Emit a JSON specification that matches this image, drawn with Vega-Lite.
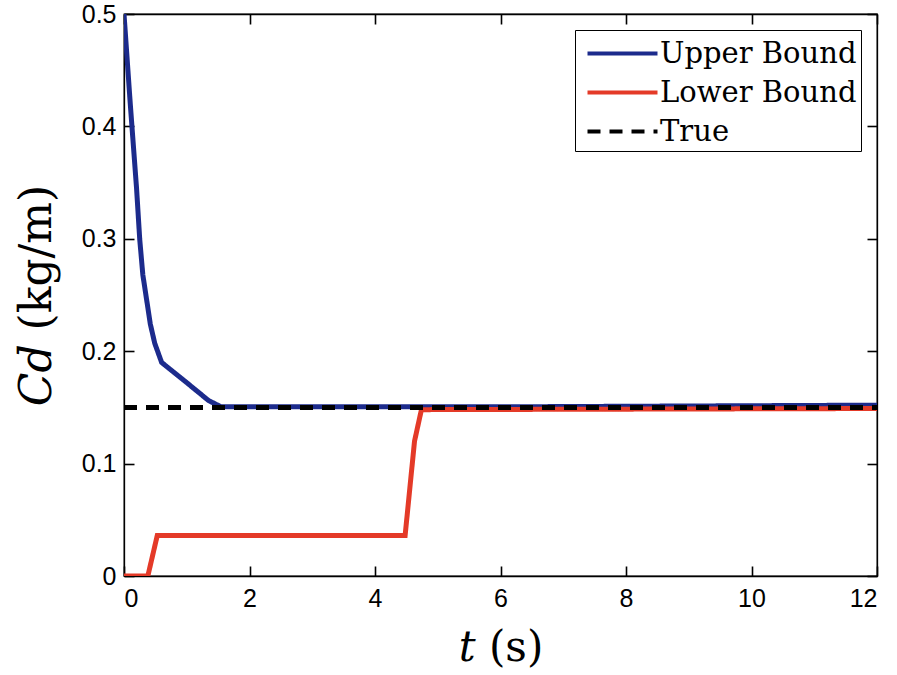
{
  "$schema": "https://vega.github.io/schema/vega-lite/v6.json",
  "width": 753,
  "height": 562,
  "autosize": {"type": "none"},
  "padding": {"left": 124, "top": 14, "right": 20, "bottom": 99},
  "background": "white",
  "config": {
    "view": {"stroke": "black", "strokeWidth": 1.3},
    "axis": {"domainColor": "black", "tickColor": "black", "labelColor": "black", "titleColor": "black", "grid": false, "zindex": 1, "labelFont": "Liberation Sans", "labelFontSize": 25, "ticks": true, "tickSize": -10, "domainWidth": 1.3, "tickWidth": 1.6}
  },
  "data": {"values": [
    {"s": "Upper Bound", "t": 0, "c": 0.5},
    {"s": "Upper Bound", "t": 0.1, "c": 0.42},
    {"s": "Upper Bound", "t": 0.2, "c": 0.345},
    {"s": "Upper Bound", "t": 0.25, "c": 0.3},
    {"s": "Upper Bound", "t": 0.3, "c": 0.268},
    {"s": "Upper Bound", "t": 0.36, "c": 0.246},
    {"s": "Upper Bound", "t": 0.42, "c": 0.224},
    {"s": "Upper Bound", "t": 0.49, "c": 0.207},
    {"s": "Upper Bound", "t": 0.6, "c": 0.19},
    {"s": "Upper Bound", "t": 1.0, "c": 0.172},
    {"s": "Upper Bound", "t": 1.35, "c": 0.156},
    {"s": "Upper Bound", "t": 1.55, "c": 0.1505},
    {"s": "Upper Bound", "t": 6, "c": 0.1505},
    {"s": "Upper Bound", "t": 12, "c": 0.152},
    {"s": "Lower Bound", "t": 0, "c": 0},
    {"s": "Lower Bound", "t": 0.38, "c": 0},
    {"s": "Lower Bound", "t": 0.53, "c": 0.036},
    {"s": "Lower Bound", "t": 4.48, "c": 0.036},
    {"s": "Lower Bound", "t": 4.63, "c": 0.12},
    {"s": "Lower Bound", "t": 4.74, "c": 0.148},
    {"s": "Lower Bound", "t": 12, "c": 0.149},
    {"s": "True", "t": 0, "c": 0.15},
    {"s": "True", "t": 12, "c": 0.15}
  ]},
  "layer": [
    {
      "mark": {"type": "point", "opacity": 0},
      "encoding": {
        "x": {"field": "t", "type": "quantitative", "scale": {"domain": [0, 12], "nice": false}, "axis": {"orient": "top", "values": [0, 2, 4, 6, 8, 10, 12], "labels": false, "title": null}},
        "y": {"field": "c", "type": "quantitative", "scale": {"domain": [0, 0.5], "nice": false}, "axis": {"orient": "right", "values": [0, 0.1, 0.2, 0.3, 0.4, 0.5], "labels": false, "title": null}}
      }
    },
    {
      "mark": {"type": "line", "strokeWidth": 5, "clip": true},
      "encoding": {
        "x": {"field": "t", "type": "quantitative", "axis": {"orient": "bottom", "values": [0, 2, 4, 6, 8, 10, 12], "title": "𝑡 (s)", "titleFont": "DejaVu Serif", "titleFontSize": 42, "titleFontWeight": "normal", "labelPadding": 20, "titlePadding": 16}},
        "y": {"field": "c", "type": "quantitative", "axis": {"orient": "left", "values": [0, 0.1, 0.2, 0.3, 0.4, 0.5], "format": "~g", "title": "𝐶𝑑  (kg/m)", "titleFont": "DejaVu Serif", "titleFontSize": 44, "titleFontWeight": "normal", "labelPadding": 18, "titlePadding": 22}},
        "color": {"field": "s", "type": "nominal", "scale": {"domain": ["Upper Bound", "Lower Bound", "True"], "range": ["#1c2b8c", "#e43a28", "#000000"]}, "legend": {"title": null, "orient": "none", "legendX": 451, "legendY": 16, "symbolType": "M-2,0H2", "symbolSize": 1225, "symbolStrokeWidth": 4, "labelFont": "DejaVu Serif", "labelFontSize": 29, "labelColor": "black", "labelLimit": 0, "strokeColor": "black", "fillColor": "white", "padding": 4, "rowPadding": 4, "labelOffset": 18, "symbolOffset": 24}},
        "strokeDash": {"field": "s", "type": "nominal", "scale": {"domain": ["Upper Bound", "Lower Bound", "True"], "range": [[1, 0], [1, 0], [13, 9]]}, "legend": null},
        "order": {"field": "s", "sort": "descending"}
      }
    }
  ],
  "resolve": {"axis": {"x": "independent", "y": "independent"}}
}
